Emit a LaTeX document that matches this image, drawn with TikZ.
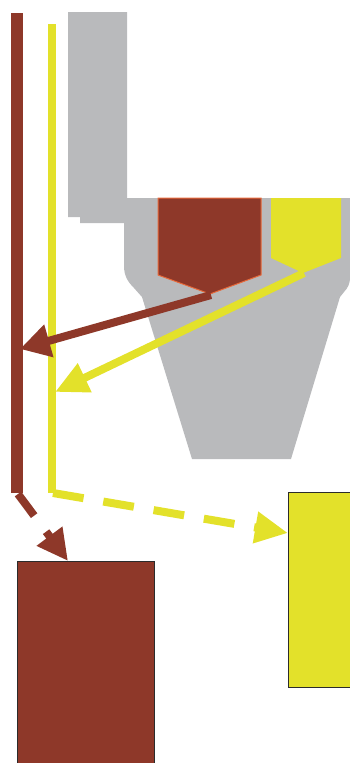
\documentclass[tikz,border=0pt]{standalone}
\usetikzlibrary{arrows.meta}
\definecolor{rust}{HTML}{8E3829}
\definecolor{lemon}{HTML}{E3E12A}
\definecolor{ash}{HTML}{B9BABC}
\definecolor{ember}{HTML}{E8693A}
\definecolor{edge}{HTML}{2B2B2B}
\begin{document}
\begin{tikzpicture}[x=1pt,y=-1pt,
  flowline/.style={line width=8pt, line cap=butt},
  rusthead/.style={-{Triangle[length=30pt,width=32pt]}},
  lemonhead/.style={-{Triangle[length=33pt,width=30pt]}},
  binbox/.style={draw=edge, line width=1pt, inner sep=0pt, minimum width=#1},
]
\useasboundingbox (0,0) rectangle (350,763);
\clip (0,0) rectangle (350,763);

% grey machine body
\fill[ash] (68,12) -- (127,12) -- (127,198) -- (350,198) -- (350,278)
  .. controls (350,283) and (348,288) .. (344,292) -- (340,297)
  -- (291,459) -- (192,459) -- (142,297) -- (134,288)
  .. controls (128,282) and (124,276) .. (124,266)
  -- (124,223) -- (80,223) -- (80,217) -- (68,217) -- cycle;

% hoppers
\filldraw[fill=rust, draw=ember, line width=1pt]
  (158,198) -- (261,198) -- (261,275) -- (210,294) -- (158,275) -- cycle;
\fill[lemon] (271,198) -- (341,198) -- (341,258) -- (303,273) -- (271,258) -- cycle;

% coordinates
\coordinate (rusttip) at (211,295);
\coordinate (lemontip) at (304,273);
\coordinate (rtop) at (17,13);
\coordinate (rbot) at (17,493);
\coordinate (ytop) at (52,24);
\coordinate (ybot) at (52,493);
\coordinate (rhit) at (20,349);
\coordinate (yhit) at (55,392);

% vertical bars
\draw[rust, line width=12pt, line cap=butt] (rtop) -- (rbot);
\draw[lemon, line width=8pt, line cap=butt] (ytop) -- (ybot);

% boxes
\node[binbox=137.5pt, minimum height=214pt, fill=rust] (rbox) at (85.75,668) {};
\node[binbox=72pt, minimum height=195pt, fill=lemon] (ybox) at (324,589.5) {};

\coordinate (rin) at (68,561);
\coordinate (yin) at (288,533);
\coordinate (rstart) at (18,494);
\coordinate (ystart) at (53,493);

% arrows
\draw[rust, flowline, rusthead] (rusttip) -- (rhit);
\draw[lemon, flowline, lemonhead] (lemontip) -- (yhit);
\draw[rust, flowline, dash pattern=on 27pt off 20pt, -{Triangle[length=31pt,width=30pt]}] (rstart) -- (rin);
\draw[lemon, flowline, dash pattern=on 31pt off 20pt, lemonhead] (ystart) -- (yin);
\end{tikzpicture}
\end{document}
